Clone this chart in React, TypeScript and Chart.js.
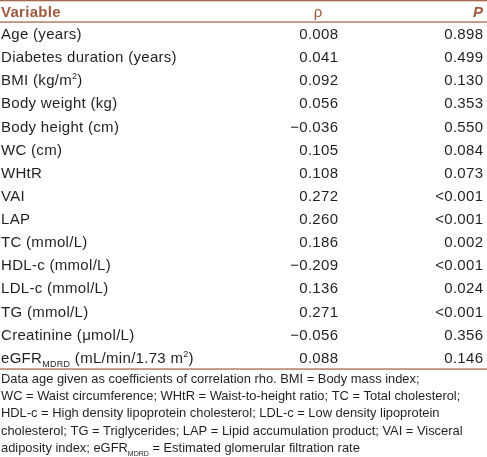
import React, { useEffect, useRef } from "react";
import { Chart, registerables } from "chart.js";

Chart.register(...registerables);

const variables: string[] = [
  "Age (years)",
  "Diabetes duration (years)",
  "BMI (kg/m^{2})",
  "Body weight (kg)",
  "Body height (cm)",
  "WC (cm)",
  "WHtR",
  "VAI",
  "LAP",
  "TC (mmol/L)",
  "HDL-c (mmol/L)",
  "LDL-c (mmol/L)",
  "TG (mmol/L)",
  "Creatinine (μmol/L)",
  "eGFR_{MDRD} (mL/min/1.73 m^{2})",
];

const rhoValues: number[] = [
  0.008, 0.041, 0.092, 0.056, -0.036, 0.105, 0.108, 0.272, 0.26, 0.186,
  -0.209, 0.136, 0.271, -0.056, 0.088,
];

const pValues: string[] = [
  "0.898", "0.499", "0.130", "0.353", "0.550", "0.084", "0.073", "<0.001",
  "<0.001", "0.002", "<0.001", "0.024", "<0.001", "0.356", "0.146",
];

const headers: string[] = ["Variable", "ρ", "P"];

const footnoteLines: string[] = [
  "Data age given as coefficients of correlation rho. BMI = Body mass index;",
  "WC = Waist circumference; WHtR = Waist-to-height ratio; TC = Total cholesterol;",
  "HDL-c = High density lipoprotein cholesterol; LDL-c = Low density lipoprotein",
  "cholesterol; TG = Triglycerides; LAP = Lipid accumulation product; VAI = Visceral",
  "adiposity index; eGFR_{MDRD} = Estimated glomerular filtration rate",
];

const TEXT = "#231f20";
const BROWN = "#9c5a3f";
const LINE = "#a5694f";
const BODY_FAMILY = '"Liberation Sans", Arial, sans-serif';
const BODY_SIZE = 15;
const NOTE_SIZE = 12.9;

type Seg = { t: string; k: "n" | "sub" | "sup" };

function parseRich(s: string): Seg[] {
  const out: Seg[] = [];
  const re = /(_\{[^}]*\}|\^\{[^}]*\})/g;
  let last = 0;
  let m: RegExpExecArray | null;
  while ((m = re.exec(s))) {
    if (m.index > last) out.push({ t: s.slice(last, m.index), k: "n" });
    const inner = m[0].slice(2, -1);
    out.push({ t: inner, k: m[0][0] === "_" ? "sub" : "sup" });
    last = m.index + m[0].length;
  }
  if (last < s.length) out.push({ t: s.slice(last), k: "n" });
  return out;
}

function drawRich(
  ctx: CanvasRenderingContext2D,
  s: string,
  x: number,
  y: number,
  size: number,
  align: "left" | "right" | "center",
  color: string,
  weight = "normal",
  style = "normal",
  spacing = 0
) {
  const segs = parseRich(s);
  const c: any = ctx;
  const fontFor = (k: Seg["k"]) =>
    `${style} ${weight} ${k === "n" ? size : Math.round(size * 0.58)}px ${BODY_FAMILY}`;
  c.letterSpacing = `${spacing}px`;
  let total = 0;
  for (const sg of segs) {
    ctx.font = fontFor(sg.k);
    total += ctx.measureText(sg.t).width;
  }
  let cx = x;
  if (align === "right") cx = x - total + spacing;
  else if (align === "center") cx = x - total / 2;
  ctx.textAlign = "left";
  ctx.textBaseline = "alphabetic";
  ctx.fillStyle = color;
  for (const sg of segs) {
    ctx.font = fontFor(sg.k);
    const dy = sg.k === "sub" ? size * 0.28 : sg.k === "sup" ? -size * 0.42 : 0;
    ctx.fillText(sg.t, cx, y + dy);
    cx += ctx.measureText(sg.t).width;
  }
  c.letterSpacing = "0px";
}

const tablePlugin = {
  id: "tableText",
  afterDraw(chart: any) {
    const ctx: CanvasRenderingContext2D = chart.ctx;
    const area = chart.chartArea;
    const yScale = chart.scales.y;
    const W = chart.width;
    ctx.save();
    // rules
    ctx.fillStyle = LINE;
    ctx.fillRect(0, 0, W, 1.3);
    ctx.fillRect(0, area.top - 0.6, W, 1.3);
    ctx.fillRect(0, area.bottom - 0.6, W, 1.3);

    // headers
    drawRich(ctx, headers[0], 1, 17, BODY_SIZE, "left", BROWN, "bold", "normal", 0.3);
    drawRich(ctx, headers[1], 318, 17, BODY_SIZE, "center", BROWN);
    drawRich(ctx, headers[2], 483, 17, BODY_SIZE, "right", BROWN, "bold", "italic");

    const rhoX = 338;
    const pX = 483;
    variables.forEach((v, i) => {
      const cy = yScale.getPixelForValue(i) + 5.4;
      drawRich(ctx, v, 1, cy, BODY_SIZE, "left", TEXT, "normal", "normal", 0.3);
      const r = rhoValues[i];
      const rs = (r < 0 ? "\u2212" : "") + Math.abs(r).toFixed(3);
      drawRich(ctx, rs, rhoX, cy, BODY_SIZE, "right", TEXT, "normal", "normal", 0.3);
      drawRich(ctx, pValues[i], pX, cy, BODY_SIZE, "right", TEXT, "normal", "normal", 0.3);
    });

    // footnote
    const baseY = area.bottom + 13.5;
    footnoteLines.forEach((ln, i) => {
      drawRich(ctx, ln, 1, baseY + i * 17.4, NOTE_SIZE, "left", TEXT);
    });
    ctx.restore();
  },
};

export default function App() {
  const ref = useRef<HTMLCanvasElement | null>(null);
  useEffect(() => {
    if (!ref.current) return;
    const chart = new Chart(ref.current, {
      type: "bar",
      data: {
        labels: variables,
        datasets: [
          {
            label: "ρ",
            data: rhoValues,
            backgroundColor: "rgba(0,0,0,0)",
            borderWidth: 0,
          },
        ],
      },
      options: {
        indexAxis: "y",
        responsive: false,
        animation: false,
        devicePixelRatio: 1,
        layout: { padding: { top: 22, bottom: 88, left: 0, right: 0 } },
        plugins: { legend: { display: false }, tooltip: { enabled: false } },
        scales: {
          x: { display: false, min: -1, max: 1 },
          y: { display: false, offset: true },
        },
      },
      plugins: [tablePlugin],
    });
    return () => chart.destroy();
  }, []);
  return (
    <div style={{ position: "fixed", left: 0, top: 0, width: 487, height: 457, background: "#fff" }}>
      <canvas ref={ref} width={487} height={457} style={{ display: "block" }} />
    </div>
  );
}
